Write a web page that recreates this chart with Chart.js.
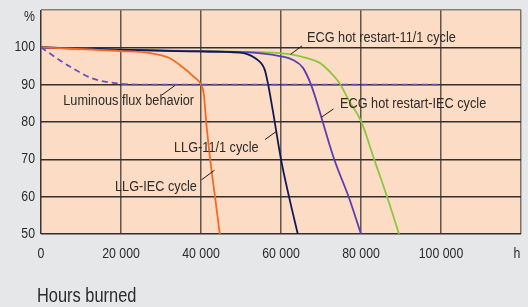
<!DOCTYPE html>
<html>
<head>
<meta charset="utf-8">
<script src="https://cdn.jsdelivr.net/npm/chart.js@4/dist/chart.umd.min.js"></script>
<style>
  html, body { margin: 0; padding: 0; background: #e6e7e9; }
  #wrap { width: 528px; height: 307px; }
</style>
</head>
<body>
<div id="wrap"><canvas id="c" width="528" height="307"></canvas></div>
<script>
// ---- Data (hours burned vs. % luminous flux / survivors) ----
const fluxHours   = [0, 6500, 13000, 18000, 25000, 100000];
const fluxValues  = [100, 95.3, 91.6, 90.5, 90, 90];

const llgIecHours  = [0, 20000, 27000, 32000, 35500, 38000, 40000, 40700, 41300, 42300, 43500, 44700];
const llgIecValues = [100, 99.0, 98.5, 97.2, 94.6, 92.3, 90, 87.5, 80, 70, 60, 50];

const llg111Hours  = [0, 20000, 40000, 49600, 53400, 55900, 56700, 57900, 60000, 62000, 64200];
const llg111Values = [100, 99.4, 98.9, 98.6, 97.2, 94.1, 90.5, 83.4, 70, 60, 50];

const ecgIecHours  = [0, 20000, 40000, 55000, 60000, 63000, 65500, 67500, 69200, 70000, 73300, 77000, 80000];
const ecgIecValues = [100, 99.3, 98.9, 98.4, 97.6, 96.6, 94.5, 90, 84.5, 81.6, 70, 59.7, 50];

const ecg111Hours  = [0, 20000, 40000, 55000, 62100, 66250, 69580, 72070, 74560, 77060, 80000, 83300, 86600, 89500];
const ecg111Values = [100, 99.4, 99.0, 98.7, 98.2, 97.2, 95.9, 93.6, 90.5, 85.6, 80.3, 70, 59.7, 50];

const xTicks = [0, 20000, 40000, 60000, 80000, 100000];
const xTickLabels = ['0', '20 000', '40 000', '60 000', '80 000', '100 000'];
const xUnitLabel = 'h';
const yTicks = [50, 60, 70, 80, 90, 100];
const yTickLabels = ['50', '60', '70', '80', '90', '100'];
const yUnitLabel = '%';
const xAxisTitle = 'Hours burned';

const seriesNames = ['Luminous flux behavior', 'LLG-IEC cycle', 'LLG-11/1 cycle', 'ECG hot restart-IEC cycle', 'ECG hot restart-11/1 cycle'];

// ---- Layout / style (not data) ----
const X_MAX = 120000, Y_MIN = 50, Y_MAX = 110;
const X_UNIT_POS = 119000, Y_UNIT_POS = 108.1;
const FONT = "'Liberation Sans', Arial, sans-serif";
const CONDENSE = 0.82;
const TEXT = '#2b2b2b';

// label annotations in data units
const annotations = [
  { text: seriesNames[0], x: 5575,  y: 85.6,  lx1: 30175, ly1: 87.2, lx2: 33500, ly2: 89.8 },
  { text: seriesNames[4], x: 66500, y: 102.6, lx1: 62375, ly1: 98.1, lx2: 65250, ly2: 100.4 },
  { text: seriesNames[3], x: 74750, y: 85.0,  lx1: 70125, ly1: 81.3, lx2: 73125, ly2: 83.5 },
  { text: seriesNames[2], x: 33250, y: 73.0,  lx1: 56000, ly1: 75.3, lx2: 59000, ly2: 77.6 },
  { text: seriesNames[1], x: 18500, y: 62.7,  lx1: 40125, ly1: 64.5, lx2: 43375, ly2: 67.1 }
];

const pts = (xs, ys) => xs.map((x, i) => ({ x: x, y: ys[i] }));

function condensedText(ctx, text, x, y) {
  ctx.save();
  ctx.translate(x, y);
  ctx.scale(CONDENSE, 1);
  ctx.fillText(text, 0, 0);
  ctx.restore();
}

const bgPlugin = {
  id: 'bg',
  beforeDraw(chart) {
    const { ctx, chartArea: a } = chart;
    ctx.save();
    ctx.fillStyle = '#e6e7e9';
    ctx.fillRect(0, 0, chart.width, chart.height);
    ctx.fillStyle = '#fddcc5';
    ctx.fillRect(a.left, a.top, a.right - a.left, a.bottom - a.top);
    ctx.restore();
  }
};

// draw the axes' own tick labels horizontally condensed (narrow type as in the reference)
const condensePlugin = {
  id: 'condense',
  afterLayout(chart) {
    ['x', 'y'].forEach(id => {
      const s = chart.scales[id];
      if (!s || s._condensed) return;
      s._condensed = true;
      const orig = s.drawLabels.bind(s);
      s.drawLabels = function (area) {
        const ctx = this.ctx;
        const r = ctx.rotate;
        ctx.rotate = function (a) { r.call(this, a); this.scale(CONDENSE, 1); };
        try { orig(area); } finally { ctx.rotate = r; }
      };
    });
  }
};

const labelPlugin = {
  id: 'labels',
  afterDatasetsDraw(chart) {
    const { ctx } = chart;
    const xs = chart.scales.x, ys = chart.scales.y;
    ctx.save();
    ctx.strokeStyle = '#1a1a1a';
    ctx.lineWidth = 1;
    ctx.fillStyle = TEXT;
    ctx.font = "15.5px " + FONT;
    ctx.textBaseline = 'middle';
    ctx.textAlign = 'left';
    annotations.forEach(a => {
      ctx.beginPath();
      ctx.moveTo(xs.getPixelForValue(a.lx1), ys.getPixelForValue(a.ly1));
      ctx.lineTo(xs.getPixelForValue(a.lx2), ys.getPixelForValue(a.ly2));
      ctx.stroke();
      condensedText(ctx, a.text, xs.getPixelForValue(a.x), ys.getPixelForValue(a.y));
    });
    ctx.font = "20px " + FONT;
    condensedText(ctx, xAxisTitle, chart.chartArea.left - 4, 296);
    ctx.restore();
  }
};

const common = { pointRadius: 0, borderWidth: 1.8, fill: false, cubicInterpolationMode: 'monotone' };

new Chart(document.getElementById('c'), {
  type: 'line',
  data: {
    datasets: [
      Object.assign({ label: seriesNames[0], data: pts(fluxHours, fluxValues), borderColor: '#6a4fbf', borderDash: [6, 4] }, common),
      Object.assign({ label: seriesNames[1], data: pts(llgIecHours, llgIecValues), borderColor: '#f36a24' }, common),
      Object.assign({ label: seriesNames[2], data: pts(llg111Hours, llg111Values), borderColor: '#0e1a57' }, common),
      Object.assign({ label: seriesNames[3], data: pts(ecgIecHours, ecgIecValues), borderColor: '#5a3fae' }, common),
      Object.assign({ label: seriesNames[4], data: pts(ecg111Hours, ecg111Values), borderColor: '#8cc63f' }, common)
    ]
  },
  options: {
    responsive: false,
    animation: false,
    devicePixelRatio: 1,
    layout: { padding: { top: 10, right: 7, left: 0, bottom: 0 } },
    plugins: { legend: { display: false }, tooltip: { enabled: false } },
    scales: {
      x: {
        type: 'linear', min: 0, max: X_MAX,
        afterFit(s) { s.height = 73; s.paddingLeft = 0; s.paddingRight = 0; },
        afterBuildTicks(s) { s.ticks = xTicks.concat([X_UNIT_POS, X_MAX]).map(v => ({ value: v })); },
        border: { display: false },
        grid: {
          drawTicks: false,
          lineWidth: 1.5,
          color(ctx) {
            const v = ctx.tick && ctx.tick.value;
            if (v === X_UNIT_POS) return 'rgba(0,0,0,0)';
            if (v === 0) return '#3a3532';
            if (v === X_MAX) return '#7d746e';
            return '#5e5550';
          }
        },
        ticks: {
          autoSkip: false, maxRotation: 0, padding: 11,
          color: TEXT, font: { family: FONT, size: 15 },
          callback(v) {
            const i = xTicks.indexOf(v);
            if (i >= 0) return xTickLabels[i];
            if (v === X_UNIT_POS) return xUnitLabel;
            return '';
          }
        }
      },
      y: {
        type: 'linear', min: Y_MIN, max: Y_MAX,
        afterFit(s) { s.width = 41; s.paddingTop = 0; s.paddingBottom = 0; },
        afterBuildTicks(s) { s.ticks = yTicks.concat([Y_UNIT_POS, Y_MAX]).map(v => ({ value: v })); },
        border: { display: false },
        grid: {
          drawTicks: false,
          lineWidth: 1.5,
          color(ctx) {
            const v = ctx.tick && ctx.tick.value;
            if (v === Y_UNIT_POS) return 'rgba(0,0,0,0)';
            if (v === Y_MAX) return '#8a7f78';
            return '#332f2c';
          }
        },
        ticks: {
          autoSkip: false, padding: 6,
          color: TEXT, font: { family: FONT, size: 15 },
          callback(v) {
            const i = yTicks.indexOf(v);
            if (i >= 0) return yTickLabels[i];
            if (v === Y_UNIT_POS) return yUnitLabel;
            return '';
          }
        }
      }
    }
  },
  plugins: [bgPlugin, condensePlugin, labelPlugin]
});
</script>
</body>
</html>
